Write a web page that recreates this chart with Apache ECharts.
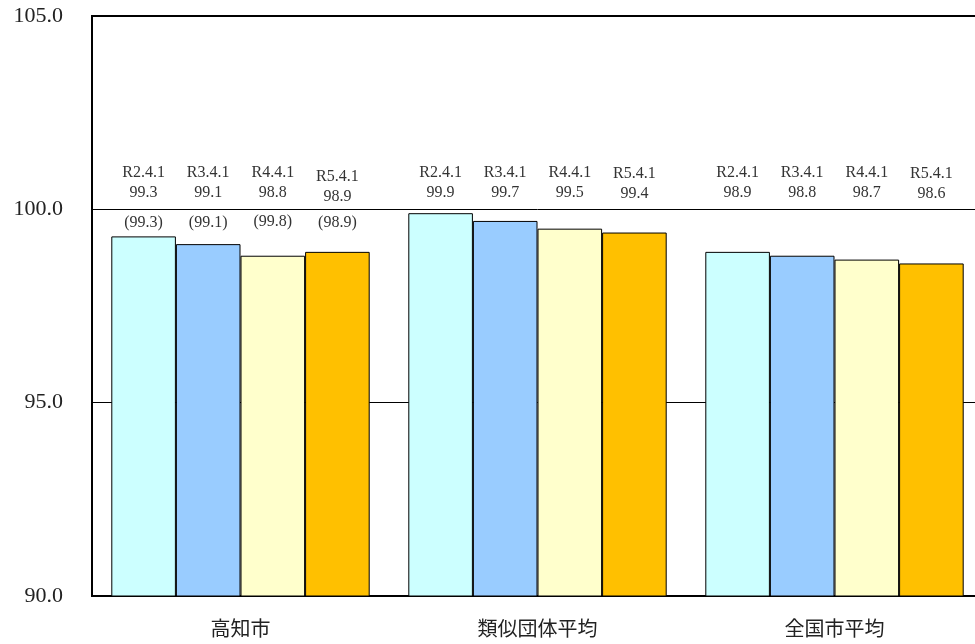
<!DOCTYPE html>
<html><head><meta charset="utf-8">
<script src="https://cdn.jsdelivr.net/npm/echarts@6/dist/echarts.min.js"></script>
<style>html,body{margin:0;padding:0;background:#fff;overflow:hidden}#c{width:983px;height:644px}</style>
</head><body><div id="c"></div>
<script>
const categories = ['高知市', '類似団体平均', '全国市平均'];
const seriesNames = ['R2.4.1', 'R3.4.1', 'R4.4.1', 'R5.4.1'];
const valuesR2 = [99.3, 99.9, 98.9];
const valuesR3 = [99.1, 99.7, 98.8];
const valuesR4 = [98.8, 99.5, 98.7];
const valuesR5 = [98.9, 99.4, 98.6];
const kochiParen = ['(99.3)', '(99.1)', '(99.8)', '(98.9)'];
const yTicks = [90, 95, 100, 105];
// vertical anchor (in axis units) where each label block sits
const labelAnchorR2 = [100.16, 100.16, 100.17];
const labelAnchorR3 = [100.16, 100.18, 100.17];
const labelAnchorR4 = [100.18, 100.16, 100.17];
const labelAnchorR5 = [100.07, 100.15, 100.15];
const parenAnchor = [99.40, 99.40, 99.42, 99.40];

const values = [valuesR2, valuesR3, valuesR4, valuesR5];
const anchors = [labelAnchorR2, labelAnchorR3, labelAnchorR4, labelAnchorR5];
const colors = ['#CCFFFF', '#99CCFF', '#FFFFCC', '#FFC000'];
const serif = '"Liberation Serif","DejaVu Serif","Noto Sans CJK JP",serif';

const chart = echarts.init(document.getElementById('c'));
const barCommon = { barGap: '0%', barCategoryGap: '13%' };
const series = [];
values.forEach((v, i) => {
  series.push(Object.assign({
    type: 'bar', name: seriesNames[i], xAxisIndex: 0, data: v,
    itemStyle: { color: colors[i], borderColor: '#000', borderWidth: 1 },
    z: 3
  }, barCommon));
});
anchors.forEach((a, i) => {
  series.push(Object.assign({
    type: 'bar', xAxisIndex: 1, data: a, silent: true,
    itemStyle: { color: 'rgba(0,0,0,0)' },
    label: { show: true, position: 'top', distance: 0, color: '#333', fontFamily: serif, fontSize: 16, lineHeight: 20,
      formatter: p => seriesNames[i] + '\n' + values[i][p.dataIndex].toFixed(1) },
    z: 4
  }, barCommon));
});
parenAnchor.forEach((a, i) => {
  series.push(Object.assign({
    type: 'bar', xAxisIndex: 2, data: [a, '-', '-'], silent: true,
    itemStyle: { color: 'rgba(0,0,0,0)' },
    label: { show: true, position: 'top', distance: 0, color: '#333', fontFamily: serif, fontSize: 16, lineHeight: 20,
      formatter: () => kochiParen[i] },
    z: 4
  }, barCommon));
});

const hiddenX = { type: 'category', data: categories, show: false };
chart.setOption({
  animation: false,
  grid: { left: 92, right: 0, top: 16, bottom: 48, show: true, borderColor: '#000', borderWidth: 2, backgroundColor: 'transparent' },
  xAxis: [{
    type: 'category', data: categories,
    axisLine: { lineStyle: { color: '#000', width: 2 } },
    axisTick: { show: false },
    axisLabel: { color: '#222', fontSize: 20, margin: 22, fontFamily: '"Noto Sans CJK JP",sans-serif' }
  }, hiddenX, Object.assign({}, hiddenX)],
  yAxis: {
    type: 'value', min: yTicks[0], max: yTicks[yTicks.length - 1], interval: 5,
    axisLine: { show: true, lineStyle: { color: '#000', width: 2 } },
    axisTick: { show: false },
    axisLabel: { color: '#222', fontSize: 22, margin: 29, padding: [5, 0, 0, 0], fontFamily: serif, formatter: v => v.toFixed(1) },
    splitLine: { show: true, lineStyle: { color: '#000', width: 1 } }
  },
  series: series
});
</script></body></html>
